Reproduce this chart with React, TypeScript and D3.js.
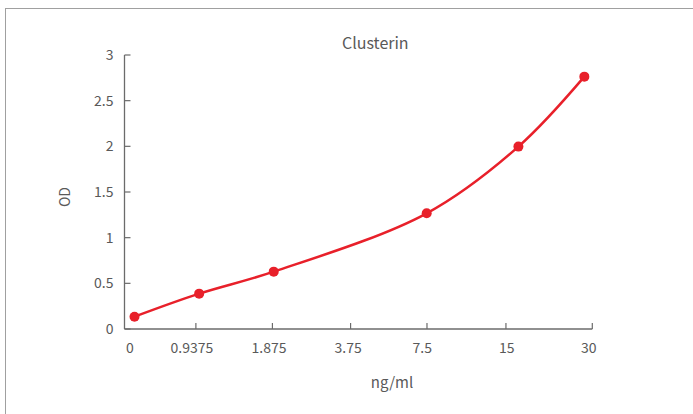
import React from "react";
import * as d3 from "d3";

const title = "Clusterin";
const xTitle = "ng/ml";
const yTitle = "OD";
// x positions are in axis units (0..100 along the axis)
const xTickLabels = ["0", "0.9375", "1.875", "3.75", "7.5", "15", "30"];
const xTickUnits = [0, 15.26, 31.62, 48.33, 64.66, 81.54, 100];
const xLabelUnits = [1.15, 14.4, 30.9, 47.8, 63.65, 81.7, 99.25];
const pointUnits = [2.14, 15.96, 31.9, 64.6, 84.2, 98.3];
const odValues = [0.135, 0.387, 0.628, 1.267, 1.997, 2.763];
const yTicks = [0, 0.5, 1, 1.5, 2, 2.5, 3];

const W = 693;
const H = 414;
const left = 124.5;
const right = 592.3;
const top = 55;
const bottom = 329;
const axisColor = "#6b6b6b";
const textColor = "#595959";
const red = "#e8202a";
const font = "'Noto Sans CJK SC', 'Noto Sans', sans-serif";

export default function App() {
  const x = d3.scaleLinear().domain([0, 100]).range([left, right]);
  const y = d3.scaleLinear().domain([0, 3]).range([bottom, top]);
  const pts: [number, number][] = pointUnits.map((u, i) => [x(u), y(odValues[i])]);
  const line = d3.line().curve(d3.curveCatmullRom.alpha(0.5))(pts) || "";

  return (
    <svg
      width={W}
      height={H}
      style={{ position: "absolute", left: 0, top: 0, background: "#fff" }}
      fontFamily={font}
    >
      <rect x={5.5} y={8.5} width={W + 10} height={H + 10} fill="#fff" stroke="#a0a0a0" strokeWidth={1} />
      <text x={375.3} y={48.5} textAnchor="middle" fontSize={16} fill={textColor}>
        {title}
      </text>
      {/* y axis */}
      <line x1={left} x2={left} y1={top} y2={bottom} stroke={axisColor} strokeWidth={1.3} />
      {yTicks.map((t) => (
        <g key={t}>
          <line x1={left} x2={left + 6} y1={y(t)} y2={y(t)} stroke={axisColor} strokeWidth={1.2} />
          <text x={113.5} y={y(t)} dy="0.35em" textAnchor="end" fontSize={14} fill={textColor}>
            {t}
          </text>
        </g>
      ))}
      <text
        transform={`translate(65,${197}) rotate(-90)`}
        textAnchor="middle"
        dy="0.35em"
        fontSize={14}
        fill={textColor}
      >
        {yTitle}
      </text>
      {/* x axis */}
      <line x1={left} x2={right} y1={bottom} y2={bottom} stroke={axisColor} strokeWidth={1.3} />
      {xTickUnits.map((u, i) =>
        i === 0 ? null : (
          <line key={i} x1={x(u)} x2={x(u)} y1={bottom} y2={bottom - 6} stroke={axisColor} strokeWidth={1.2} />
        )
      )}
      {xTickLabels.map((lab, i) => (
        <text key={lab} x={x(xLabelUnits[i])} y={353} textAnchor="middle" fontSize={14} fill={textColor}>
          {lab}
        </text>
      ))}
      <text x={392} y={388} textAnchor="middle" fontSize={15} fill={textColor}>
        {xTitle}
      </text>
      <path d={line} fill="none" stroke={red} strokeWidth={2.5} />
      {pts.map((p, i) => (
        <circle key={i} cx={p[0]} cy={p[1]} r={5} fill={red} />
      ))}
    </svg>
  );
}
